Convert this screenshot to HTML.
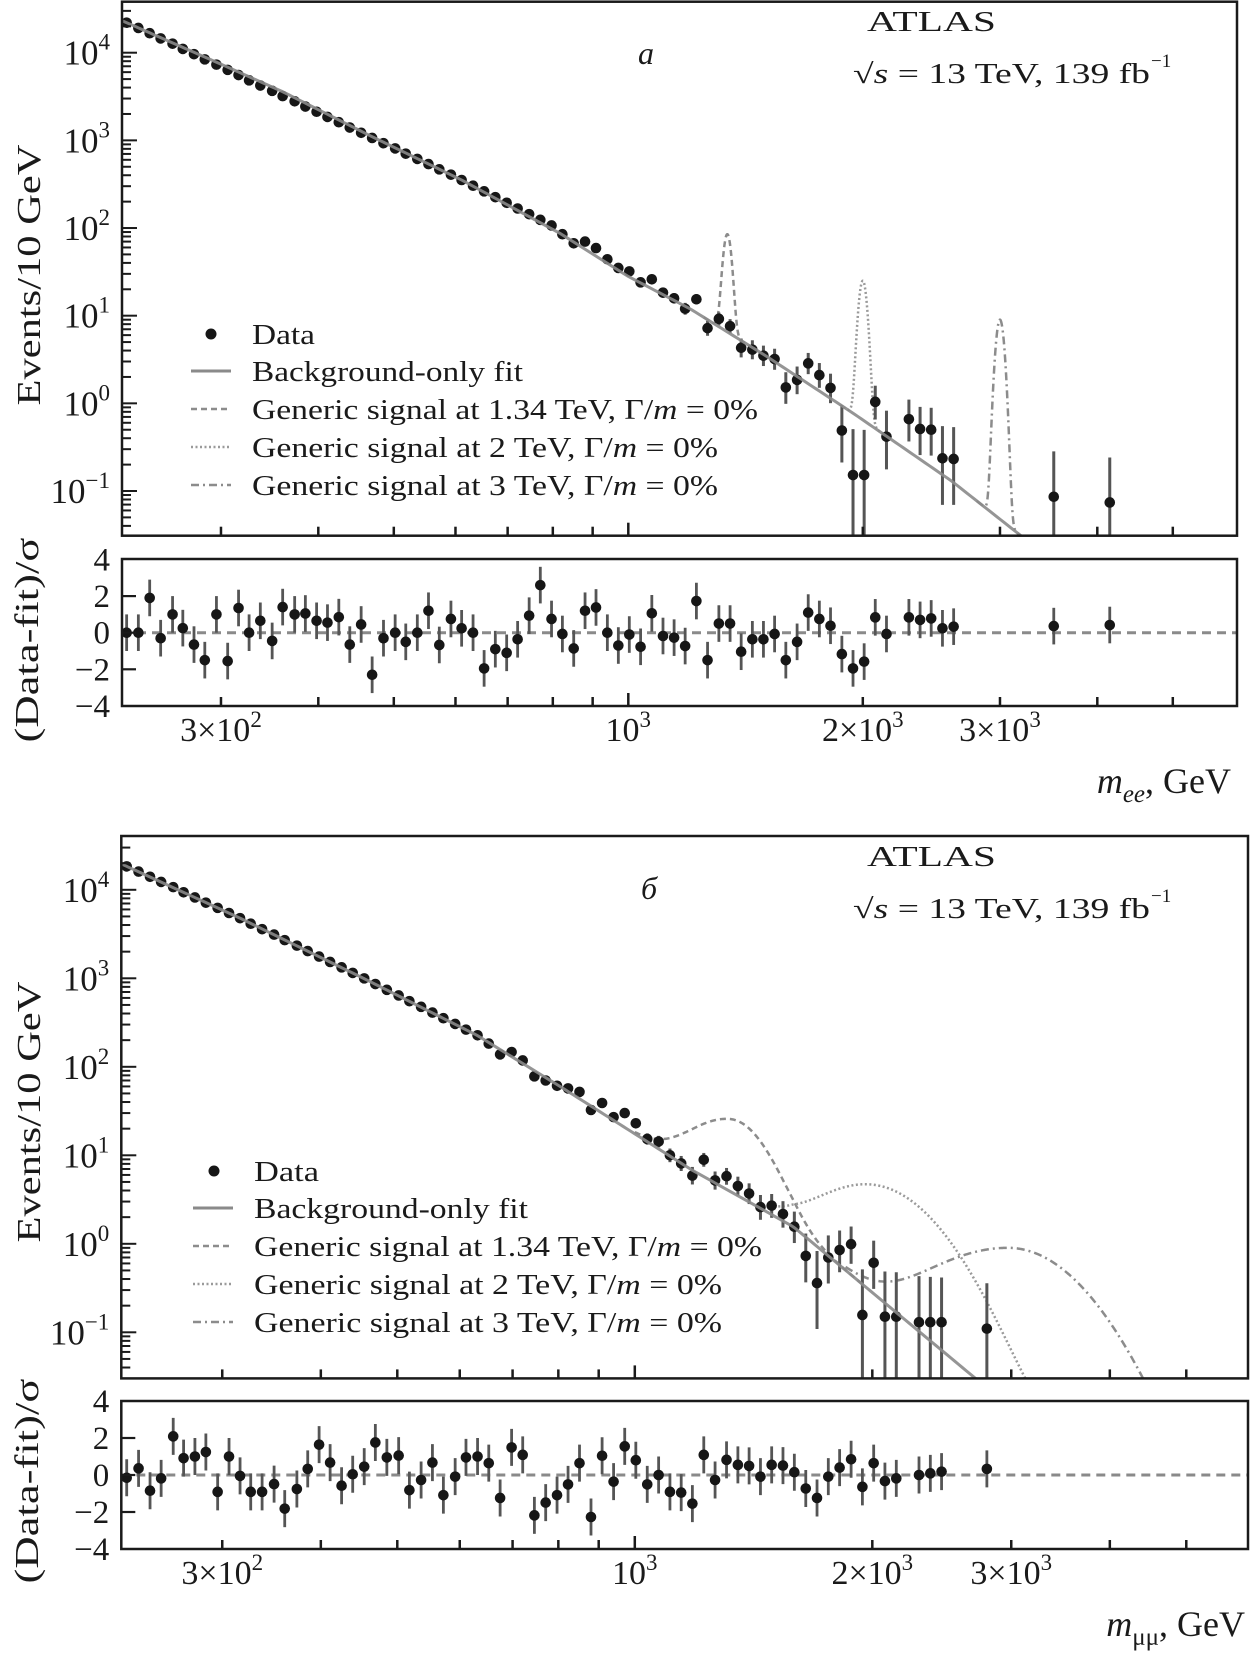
<!DOCTYPE html>
<html>
<head>
<meta charset="utf-8">
<style>
  html,body{margin:0;padding:0;background:#fff;}
  svg{display:block;}
  text{font-family:"Liberation Serif","DejaVu Serif",serif;fill:#1a1a1a;}
</style>
</head>
<body>
<svg id="chart" width="1251" height="1659" viewBox="0 0 1251 1659" xmlns="http://www.w3.org/2000/svg">
  <rect x="0" y="0" width="1251" height="1659" fill="#fff"/>
  <g id="layer"></g>

  <text x="867" y="31" font-size="28" textLength="129" lengthAdjust="spacingAndGlyphs">ATLAS</text>
  <text x="853" y="83" font-size="28" textLength="297" lengthAdjust="spacingAndGlyphs">√<tspan font-style="italic">s</tspan> = 13 TeV, 139 fb</text>
  <text x="1151" y="67" font-size="19">−1</text>
  <text x="638" y="64" font-size="32" font-style="italic">a</text>

  <g>
    <circle cx="211" cy="334" r="5.5" fill="#161616"/>
    <text x="252" y="344" font-size="28" textLength="63" lengthAdjust="spacingAndGlyphs">Data</text>
    <line x1="191" y1="371" x2="231" y2="371" stroke="#8a8a8a" stroke-width="3"/>
    <text x="252" y="381" font-size="28" textLength="271" lengthAdjust="spacingAndGlyphs">Background-only fit</text>
    <line x1="191" y1="409" x2="231" y2="409" stroke="#8c8c8c" stroke-width="2.5" stroke-dasharray="6,4"/>
    <text x="252" y="419" font-size="28" textLength="506" lengthAdjust="spacingAndGlyphs">Generic signal at 1.34 TeV, Γ/<tspan font-style="italic">m</tspan> = 0%</text>
    <line x1="191" y1="447" x2="231" y2="447" stroke="#9a9a9a" stroke-width="2.5" stroke-dasharray="2,2.5"/>
    <text x="252" y="457" font-size="28" textLength="466" lengthAdjust="spacingAndGlyphs">Generic signal at 2 TeV, Γ/<tspan font-style="italic">m</tspan> = 0%</text>
    <line x1="191" y1="485" x2="231" y2="485" stroke="#8c8c8c" stroke-width="2.5" stroke-dasharray="8,4,2,4"/>
    <text x="252" y="495" font-size="28" textLength="466" lengthAdjust="spacingAndGlyphs">Generic signal at 3 TeV, Γ/<tspan font-style="italic">m</tspan> = 0%</text>
  </g>

  <text transform="translate(40,275) rotate(-90)" text-anchor="middle" font-size="34" textLength="261" lengthAdjust="spacingAndGlyphs">Events/10 GeV</text>
  <text transform="translate(38,640) rotate(-90)" text-anchor="middle" font-size="34" textLength="205" lengthAdjust="spacingAndGlyphs">(Data-fit)/σ</text>
  <text x="1231" y="793" font-size="36" text-anchor="end"><tspan font-style="italic">m</tspan><tspan font-style="italic" font-size="25" dy="9">ee</tspan><tspan dy="-9">, GeV</tspan></text>

  <text x="867" y="866" font-size="28" textLength="129" lengthAdjust="spacingAndGlyphs">ATLAS</text>
  <text x="853" y="918" font-size="28" textLength="297" lengthAdjust="spacingAndGlyphs">√<tspan font-style="italic">s</tspan> = 13 TeV, 139 fb</text>
  <text x="1151" y="902" font-size="19">−1</text>
  <text x="641" y="899" font-size="32" font-style="italic">б</text>

  <g>
    <circle cx="214" cy="1171" r="5.5" fill="#161616"/>
    <text x="254" y="1181" font-size="28" textLength="65" lengthAdjust="spacingAndGlyphs">Data</text>
    <line x1="193" y1="1208" x2="233" y2="1208" stroke="#8a8a8a" stroke-width="3"/>
    <text x="254" y="1218" font-size="28" textLength="274" lengthAdjust="spacingAndGlyphs">Background-only fit</text>
    <line x1="193" y1="1246" x2="233" y2="1246" stroke="#8c8c8c" stroke-width="2.5" stroke-dasharray="6,4"/>
    <text x="254" y="1256" font-size="28" textLength="508" lengthAdjust="spacingAndGlyphs">Generic signal at 1.34 TeV, Γ/<tspan font-style="italic">m</tspan> = 0%</text>
    <line x1="193" y1="1284" x2="233" y2="1284" stroke="#9a9a9a" stroke-width="2.5" stroke-dasharray="2,2.5"/>
    <text x="254" y="1294" font-size="28" textLength="468" lengthAdjust="spacingAndGlyphs">Generic signal at 2 TeV, Γ/<tspan font-style="italic">m</tspan> = 0%</text>
    <line x1="193" y1="1322" x2="233" y2="1322" stroke="#8c8c8c" stroke-width="2.5" stroke-dasharray="8,4,2,4"/>
    <text x="254" y="1332" font-size="28" textLength="468" lengthAdjust="spacingAndGlyphs">Generic signal at 3 TeV, Γ/<tspan font-style="italic">m</tspan> = 0%</text>
  </g>

  <text transform="translate(40,1112) rotate(-90)" text-anchor="middle" font-size="34" textLength="261" lengthAdjust="spacingAndGlyphs">Events/10 GeV</text>
  <text transform="translate(38,1481) rotate(-90)" text-anchor="middle" font-size="34" textLength="205" lengthAdjust="spacingAndGlyphs">(Data-fit)/σ</text>
  <text x="1245" y="1636" font-size="36" text-anchor="end"><tspan font-style="italic">m</tspan><tspan font-size="25" dy="9">μμ</tspan><tspan dy="-9">, GeV</tspan></text>
</svg>

<script>
const eeMass = [227,235,243,251,260,268,277,286,296,306,316,326,337,349,360,373,385,398,411,425,439,454,469,485,502,518,536,554,572,592,611,632,653,675,698,721,746,771,797,823,851,880,909,940,971,1003,1037,1072,1108,1145,1183,1223,1264,1307,1351,1396,1443,1491,1541,1593,1647,1702,1759,1818,1880,1943,2008,2075,2145,2292,2369,2448,2531,2616,3517,4150];
const eeEvents = [22000,19150,16680,14550,12680,11040,9620,8390,7310,6370,5560,4840,4220,3670,3200,2790,2430,2120,1850,1610,1400,1220,1065,929,809,705,614,536,467,406,353,304,262,225,194,167,144,124,107,85,67,70,59,44,35,32,24,26,18.3,15.8,12,15.4,7.2,9.2,7.6,4.3,4.1,3.5,3.2,1.52,1.85,2.86,2.1,1.5,0.49,0.152,0.152,1.04,0.417,0.66,0.51,0.50,0.236,0.232,0.086,0.074];
const eeResid = [0,0,1.9,-0.3,1.0,0.25,-0.65,-1.5,1.0,-1.55,1.35,0,0.65,-0.45,1.4,1.0,1.05,0.65,0.55,0.85,-0.65,0.45,-2.3,-0.3,0,-0.5,0,1.2,-0.67,0.75,0.24,0,-1.95,-0.9,-1.1,-0.36,0.93,2.6,0.75,-0.07,-0.86,1.2,1.38,0,-0.7,-0.1,-0.77,1.06,-0.18,-0.27,-0.73,1.73,-1.5,0.5,0.5,-1.04,-0.36,-0.36,-0.07,-1.5,-0.5,1.1,0.75,0.38,-1.17,-1.95,-1.58,0.84,-0.07,0.84,0.7,0.78,0.24,0.33,0.36,0.42];
const eeFitMass = [227,300,360,469,611,817,1000,1200,1500,1940,2600,3190];
const eeFitValue = [22000,7400,3590,1100,353,87,28,12,3.5,0.78,0.13,0.031];
const eeSigMass = [1340,2000,3000];
const eeSigPeak = [85,25,9];
const eeSigWidthLo = [0.0046,0.0046,0.0046];
const eeSigWidthHi = [0.0046,0.0046,0.0046];
const eeSigFrom = [1250,1870,2800];
const eeSigTo = [1440,2140,3250];

const mmMass = [227,235,243,251,260,268,277,286,296,306,316,326,337,349,360,373,385,398,411,425,439,454,469,485,502,518,536,554,572,592,611,632,653,675,698,721,746,771,797,823,851,880,909,940,971,1003,1037,1072,1108,1145,1183,1223,1264,1307,1351,1396,1443,1491,1541,1593,1647,1702,1759,1818,1880,1943,2008,2075,2145,2292,2369,2448,2794];
const mmEvents = [18370,16070,14030,12270,10720,9370,8190,7160,6250,5470,4780,4140,3590,3120,2700,2340,2030,1760,1530,1330,1150,998,861,741,640,552,476,410,354,305,263,227,183,138,147,118,78,70,61,57,52,32.5,39,27,30,23,15.3,14.3,10,8.1,5.9,8.9,5.2,5.8,4.5,3.7,2.6,2.7,2.17,1.56,0.73,0.36,0.70,0.85,0.99,0.157,0.61,0.15,0.15,0.13,0.13,0.13,0.11];
const mmResid = [-0.15,0.36,-0.85,-0.18,2.09,0.91,1.0,1.24,-0.91,1.0,-0.05,-0.91,-0.91,-0.49,-1.82,-0.76,0.33,1.64,0.67,-0.58,0.04,0.45,1.76,0.95,1.05,-0.82,-0.27,0.67,-1.09,-0.09,0.95,1.0,0.64,-1.24,1.49,1.09,-2.18,-1.49,-1.09,-0.51,0.64,-2.27,1.04,-0.36,1.55,0.8,-0.51,0,-0.91,-0.95,-1.55,1.09,-0.27,0.82,0.55,0.49,-0.09,0.55,0.51,0.15,-0.73,-1.24,-0.09,0.4,0.85,-0.64,0.64,-0.33,-0.18,0,0.09,0.18,0.33];
const mmFitMass = [227,316,453,631,804,1182,1588,2704,3000];
const mmFitValue = [18400,4780,1000,227,60,6.8,1.56,0.03,0.015];
const mmSigMass = [1320,1980,2980];
const mmSigPeak = [25.7,4.7,0.9];
const mmSigWidthLo = [0.047,0.06,0.085];
const mmSigWidthHi = [0.035,0.06,0.065];
const mmSigFrom = [1000,1500,1850];
const mmSigTo = [1950,3300,5000];

const xTickMasses = [300,400,500,600,700,800,900,1000,2000,3000,4000,5000];
const xTickLabels = [{m:300,a:"3×10",e:"2"},{m:1000,a:"10",e:"3"},{m:2000,a:"2×10",e:"3"},{m:3000,a:"3×10",e:"3"}];
const yDecades = [4,3,2,1,0,-1];
const residTickValues = [4,2,0,-2,-4];
const sigStyles = ["6,4","2,2.5","8,4,2,4"];
const sigColors = ["#8c8c8c","#9a9a9a","#8c8c8c"];
const sigNames = ["signal-1p34tev","signal-2tev","signal-3tev"];

const NS = "http://www.w3.org/2000/svg";
const layer = document.getElementById("layer");
function mk(tag, parent){ const e = document.createElementNS(NS, tag); parent.appendChild(e); return e; }

function drawPanel(P, mass, ev, res, fM, fV, sM, sP, sLo, sHi, sFrom, sTo, tag){
  const xs = m => P.x1000 + P.xDec*Math.log10(m/1000);
  const ys = v => P.y4 - P.yDec*(Math.log10(v)-4);
  const yr = r => P.r0 - r*P.rUnit;
  const fit = m => {
    const lm = Math.log10(m);
    let i = 0;
    while (i < fM.length-2 && lm > Math.log10(fM[i+1])) i++;
    const a = Math.log10(fM[i]), b = Math.log10(fM[i+1]);
    const t = (lm-a)/(b-a);
    return Math.pow(10, Math.log10(fV[i]) + t*(Math.log10(fV[i+1])-Math.log10(fV[i])));
  };

  const g = mk("g", layer);
  
  

  const defs = mk("defs", g);
  const cp = mk("clipPath", defs); cp.setAttribute("id","clipMain"+tag);
  const cr = mk("rect", cp);
  cr.setAttribute("x",P.x0); cr.setAttribute("y",P.yTop); cr.setAttribute("width",P.x1-P.x0); cr.setAttribute("height",P.yBot-P.yTop);
  const cp2 = mk("clipPath", defs); cp2.setAttribute("id","clipRes"+tag);
  const cr2 = mk("rect", cp2);
  cr2.setAttribute("x",P.x0); cr2.setAttribute("y",P.rTop); cr2.setAttribute("width",P.x1-P.x0); cr2.setAttribute("height",P.rBot-P.rTop);

  const main = mk("g", g);
  main.setAttribute("clip-path","url(#clipMain"+tag+")");
  
  

  for (let i=0;i<sM.length;i++){
    const A = sP[i] - fit(sM[i]);
    let d = "";
    const l0 = Math.log10(sFrom[i]), l1 = Math.log10(sTo[i]);
    for (let j=0;j<=300;j++){
      const lm = l0 + (l1-l0)*j/300, m = Math.pow(10,lm);
      const dl = lm - Math.log10(sM[i]);
      const s = dl < 0 ? sLo[i] : sHi[i];
      const v = fit(m) + A*Math.exp(-0.5*(dl/s)*(dl/s));
      d += (j?"L":"M") + xs(m).toFixed(2) + "," + ys(Math.max(v,1e-4)).toFixed(2);
    }
    const p = mk("path", main);
    p.setAttribute("d", d); p.setAttribute("fill","none");
    p.setAttribute("stroke", sigColors[i]); p.setAttribute("stroke-width","2.5");
    p.setAttribute("stroke-dasharray", sigStyles[i]);
    
    
  }

  for (let i=0;i<mass.length;i++){
    const m = mass[i], v = ev[i];
    const N = v*m*0.0336/10;
    const up = v*(N+1+Math.sqrt(N+0.75))/N;
    const lowN = N - Math.sqrt(N);
    const lo = lowN > 0.02 ? v*lowN/N : 1e-5;
    const x = xs(m);
    const eb = mk("line", main);
    eb.setAttribute("x1",x); eb.setAttribute("x2",x);
    eb.setAttribute("y1",ys(up)); eb.setAttribute("y2",Math.min(ys(lo), P.yBot+5));
    eb.setAttribute("stroke","#555"); eb.setAttribute("stroke-width","3");
    
    
    const c = mk("circle", main);
    c.setAttribute("cx",x); c.setAttribute("cy",ys(v)); c.setAttribute("r","5.3");
    c.setAttribute("fill","#161616");
    
    
  }

  let fd = "";
  for (let j=0;j<=300;j++){
    const lm = Math.log10(220) + (Math.log10(6200)-Math.log10(220))*j/300;
    const m = Math.pow(10,lm);
    fd += (j?"L":"M") + xs(m).toFixed(2) + "," + ys(fit(m)).toFixed(2);
  }
  const fl = mk("path", main);
  fl.setAttribute("d", fd); fl.setAttribute("fill","none");
  fl.setAttribute("stroke","#8a8a8a"); fl.setAttribute("stroke-width","3"); fl.setAttribute("stroke-opacity","0.9");
  
  

  const rg = mk("g", g);
  rg.setAttribute("clip-path","url(#clipRes"+tag+")");
  
  
  const zl = mk("line", rg);
  zl.setAttribute("x1",P.x0); zl.setAttribute("x2",P.x1);
  zl.setAttribute("y1",yr(0)); zl.setAttribute("y2",yr(0));
  zl.setAttribute("stroke","#8a8a8a"); zl.setAttribute("stroke-width","3"); zl.setAttribute("stroke-dasharray","9,6");
  
  
  for (let i=0;i<mass.length;i++){
    const x = xs(mass[i]), r = res[i];
    const eb = mk("line", rg);
    eb.setAttribute("x1",x); eb.setAttribute("x2",x);
    eb.setAttribute("y1",yr(r+1)); eb.setAttribute("y2",yr(r-1));
    eb.setAttribute("stroke","#555"); eb.setAttribute("stroke-width","2.8");
    
    
    const c = mk("circle", rg);
    c.setAttribute("cx",x); c.setAttribute("cy",yr(r)); c.setAttribute("r","5.3");
    c.setAttribute("fill","#161616");
    
    
  }

  const fr = mk("rect", g);
  fr.setAttribute("x",P.x0); fr.setAttribute("y",P.yTop); fr.setAttribute("width",P.x1-P.x0); fr.setAttribute("height",P.yBot-P.yTop);
  fr.setAttribute("fill","none"); fr.setAttribute("stroke","#1a1a1a"); fr.setAttribute("stroke-width","2.5");
  
  
  const fr2 = mk("rect", g);
  fr2.setAttribute("x",P.x0); fr2.setAttribute("y",P.rTop); fr2.setAttribute("width",P.x1-P.x0); fr2.setAttribute("height",P.rBot-P.rTop);
  fr2.setAttribute("fill","none"); fr2.setAttribute("stroke","#1a1a1a"); fr2.setAttribute("stroke-width","2.5");
  
  

  for (const m of xTickMasses){
    const x = xs(m), len = (m===1000) ? 13 : 9;
    for (const yb of [P.yBot, P.rBot]){
      const t = mk("line", g);
      t.setAttribute("x1",x); t.setAttribute("x2",x); t.setAttribute("y1",yb); t.setAttribute("y2",yb-len);
      t.setAttribute("stroke","#1a1a1a"); t.setAttribute("stroke-width","2.5");
      
      
    }
  }
  for (const L of xTickLabels){
    const t = mk("text", g);
    t.setAttribute("x", xs(L.m)); t.setAttribute("y", P.xLabelY);
    t.setAttribute("text-anchor","middle"); t.setAttribute("font-size","34");
    t.textContent = L.a;
    const s = mk("tspan", t);
    s.setAttribute("dy","-14"); s.setAttribute("font-size","23");
    s.textContent = L.e;
    
    
  }

  for (let d=-2; d<=4; d++){
    for (let j=1;j<=9;j++){
      const v = j*Math.pow(10,d), y = ys(v);
      if (y < P.yTop+1 || y > P.yBot-1) continue;
      const t = mk("line", g);
      t.setAttribute("x1",P.x0); t.setAttribute("x2",P.x0 + (j===1?15:9));
      t.setAttribute("y1",y); t.setAttribute("y2",y);
      t.setAttribute("stroke","#1a1a1a"); t.setAttribute("stroke-width","2");
      
      
    }
  }
  for (const d of yDecades){
    const t = mk("text", g);
    t.setAttribute("x", P.x0-12); t.setAttribute("y", ys(Math.pow(10,d))+12);
    t.setAttribute("text-anchor","end"); t.setAttribute("font-size","35");
    t.textContent = "10";
    const s = mk("tspan", t);
    s.setAttribute("dy","-15"); s.setAttribute("font-size","23");
    s.textContent = d < 0 ? "−" + (-d) : String(d);
    
    
  }
  for (const r of residTickValues){
    if (Math.abs(r) < 4){
      const t = mk("line", g);
      t.setAttribute("x1",P.x0); t.setAttribute("x2",P.x0+14);
      t.setAttribute("y1",yr(r)); t.setAttribute("y2",yr(r));
      t.setAttribute("stroke","#1a1a1a"); t.setAttribute("stroke-width","2.2");
      
      
    }
    const tl = mk("text", g);
    tl.setAttribute("x", P.x0-12); tl.setAttribute("y", yr(r)+11);
    tl.setAttribute("text-anchor","end"); tl.setAttribute("font-size","33");
    tl.textContent = r < 0 ? "−" + (-r) : String(r);
    
    
  }
}

drawPanel({x0:122,x1:1237,x1000:628.3,xDec:779,yTop:1.7,yBot:535.7,y4:52.7,yDec:87.66,rTop:559,rBot:706,r0:632.7,rUnit:18.3,xLabelY:741},
  eeMass, eeEvents, eeResid, eeFitMass, eeFitValue, eeSigMass, eeSigPeak, eeSigWidthLo, eeSigWidthHi, eeSigFrom, eeSigTo, "ee");
drawPanel({x0:121.3,x1:1248,x1000:634.8,xDec:789,yTop:836,yBot:1378.4,y4:889.8,yDec:88.5,rTop:1401,rBot:1549,r0:1475,rUnit:18.5,xLabelY:1584},
  mmMass, mmEvents, mmResid, mmFitMass, mmFitValue, mmSigMass, mmSigPeak, mmSigWidthLo, mmSigWidthHi, mmSigFrom, mmSigTo, "mumu");
</script>
</body>
</html>
